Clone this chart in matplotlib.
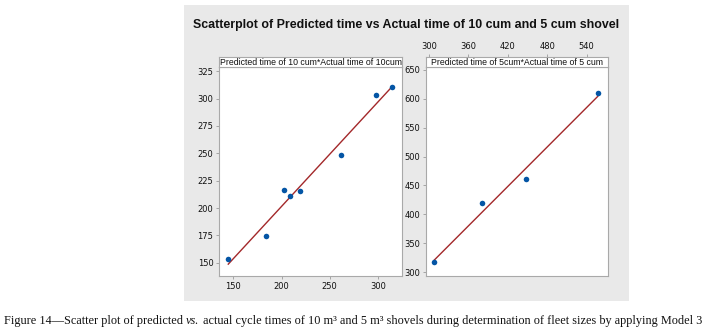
import numpy as np
import matplotlib
matplotlib.use("Agg")
import matplotlib.pyplot as plt

# ---------------- data ----------------
actual_10 = [144.8, 183.6, 202.6, 208.4, 218.8, 261.3, 298.3, 314.2]
pred_10 = [153.1, 174.3, 216.5, 211.1, 216.0, 248.4, 302.9, 310.8]
actual_5 = [308.1, 380.2, 448.1, 556.8]
pred_5 = [317.4, 419.8, 461.5, 609.7]

title = "Scatterplot of Predicted time vs Actual time of 10 cum and 5 cum shovel"
strip_10 = "Predicted time of 10 cum*Actual time of 10cum"
strip_5 = "Predicted time of 5cum*Actual time of 5 cum"
caption_parts = ["Figure 14\u2014Scatter plot of predicted ", "vs.",
                 " actual cycle times of 10 m\u00b3 and 5 m\u00b3 shovels during determination of fleet sizes by applying Model 3"]

x10_ticks = [150, 200, 250, 300]
y10_ticks = [150, 175, 200, 225, 250, 275, 300, 325]
x5_ticks = [300, 360, 420, 480, 540]
y5_ticks = [300, 350, 400, 450, 500, 550, 600, 650]

W, H = 706, 330
fig = plt.figure(figsize=(W / 100, H / 100), dpi=100)
fig.patch.set_facecolor("white")

def fx(px):
    return px / W

def fy(py):
    return 1 - py / H

# gray background panel
bg = fig.add_axes([fx(183.5), fy(300.5), fx(629) - fx(183.5), fy(5) - fy(300.5)], zorder=-10)
bg.set_facecolor("#e9e9e9")
bg.set_xticks([])
bg.set_yticks([])
for s in bg.spines.values():
    s.set_visible(False)

BORDER = "#a9a9a9"
PT_COLOR = "#0455a5"
LINE_COLOR = "#a3282a"
TICK_FS = 6.0
SH = 9.5

def style_ticks(ax):
    ax.tick_params(axis="both", direction="out", length=2, width=0.6, color="#999999",
                   labelsize=TICK_FS, pad=2, labelcolor="#111111")

def make_panel(x0, x1, y0, y1, xs, ys, xlim, ylim, xt, yt, xtop, strip_text):
    ax = fig.add_axes([fx(x0), fy(y1), fx(x1) - fx(x0), fy(y0) - fy(y1)])
    ax.set_facecolor("white")
    ax.scatter(xs, ys, s=16, color=PT_COLOR, zorder=3, linewidths=0)
    m, b = np.polyfit(xs, ys, 1)
    xx = np.array([min(xs), max(xs)])
    ax.plot(xx, m * xx + b, color=LINE_COLOR, lw=1.0, zorder=2)
    ax.set_xlim(*xlim)
    ax.set_ylim(*ylim)
    ax.set_yticks(yt)
    for s in ax.spines.values():
        s.set_color(BORDER)
        s.set_linewidth(0.8)
    style_ticks(ax)
    if xtop:
        ax.set_xticks([])
        tax = fig.add_axes([fx(x0), fy(y1), fx(x1) - fx(x0), fy(y0 - SH) - fy(y1)])
        tax.patch.set_visible(False)
        for s in tax.spines.values():
            s.set_visible(False)
        tax.set_xlim(*xlim)
        tax.set_xticks(xt)
        tax.set_yticks([])
        tax.xaxis.tick_top()
        style_ticks(tax)
    else:
        ax.set_xticks(xt)
    # strip
    sax = fig.add_axes([fx(x0), fy(y0), fx(x1) - fx(x0), fy(y0 - SH) - fy(y0)])
    sax.set_facecolor("white")
    sax.set_xticks([])
    sax.set_yticks([])
    for s in sax.spines.values():
        s.set_color(BORDER)
        s.set_linewidth(0.8)
    sax.text(0.5, 0.45, strip_text, ha="center", va="center", fontsize=6.3,
             family="Liberation Sans", color="#111111", transform=sax.transAxes)
    return ax

ax1 = make_panel(219, 402, 66.5, 276, actual_10, pred_10, (135.2, 324.9), (137.9, 329.3),
                 x10_ticks, y10_ticks, False, strip_10)
ax2 = make_panel(425.7, 608.3, 66.5, 275.5, actual_5, pred_5, (295, 572.9), (294.3, 655.7),
                 x5_ticks, y5_ticks, True, strip_5)

# title
t = fig.text(fx(406.5), fy(25), title, ha="center", va="center", fontsize=8.95,
             family="Liberation Sans", weight="bold", color="#111111")

# caption with italic "vs."
renderer = fig.canvas.get_renderer()
cap_fs = 8.82
cap_y = fy(321)
x = fx(4)
for i, part in enumerate(caption_parts):
    tt = fig.text(x, cap_y, part, ha="left", va="center", fontsize=cap_fs,
                  family="Liberation Serif", style="italic" if i == 1 else "normal", color="#111111")
    bb = tt.get_window_extent(renderer=renderer)
    x = bb.x1 / W

fig.savefig("out.png", dpi=100)
